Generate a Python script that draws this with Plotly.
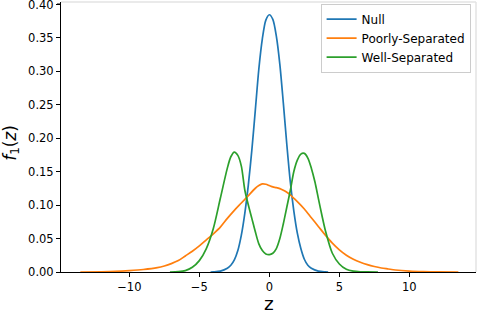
import plotly.graph_objects as go

# ---- data ----
null_z = [-4.2, -4.0, -3.5, -3.0, -2.75, -2.5, -2.25, -2.0, -1.75, -1.5, -1.25, -1.0, -0.75, -0.5, -0.25,
          0.0, 0.25, 0.5, 0.75, 1.0, 1.25, 1.5, 1.75, 2.0, 2.25, 2.5, 2.75, 3.0, 3.5, 4.0, 4.2]
null_f = [0.0, 0.0002, 0.0012, 0.0055, 0.010, 0.018, 0.032, 0.055, 0.088, 0.130, 0.182, 0.242, 0.303, 0.348, 0.376,
          0.384, 0.377, 0.352, 0.310, 0.252, 0.190, 0.134, 0.091, 0.058, 0.035, 0.019, 0.010, 0.0055, 0.0012, 0.0002, 0.0]

poor_z = [-13.5, -12, -11, -10, -9, -8, -7.5, -7, -6.5, -6, -5.5, -5, -4.5, -4, -3.5, -3, -2.5, -2, -1.5, -1,
          -0.75, -0.5, -0.25, 0, 0.25, 0.5, 0.75, 1, 1.25, 1.5, 1.75, 2, 2.5, 3, 3.5, 4, 4.5, 5, 5.5, 6, 6.5,
          7, 7.5, 8, 8.5, 9, 10, 11, 12, 13.5]
poor_f = [0.0, 0.0003, 0.0008, 0.002, 0.0037, 0.0065, 0.009, 0.0125, 0.017, 0.024, 0.031, 0.039, 0.048, 0.057,
          0.067, 0.080, 0.092, 0.103, 0.114, 0.125, 0.129, 0.1315, 0.131, 0.129, 0.127, 0.126, 0.1245, 0.122,
          0.119, 0.115, 0.110, 0.105, 0.094, 0.081, 0.068, 0.055, 0.043, 0.033, 0.025, 0.019, 0.0145, 0.011,
          0.0082, 0.006, 0.0045, 0.003, 0.0014, 0.0006, 0.0002, 0.0]

well_z = [-7.1, -6.5, -6, -5.5, -5, -4.5, -4, -3.5, -3, -2.75, -2.5, -2.25, -2, -1.75, -1.5, -1.25, -1,
          -0.75, -0.5, -0.25, 0, 0.25, 0.5, 0.75, 1, 1.25, 1.5, 1.75, 2, 2.25, 2.5, 2.75, 3, 3.25, 3.5,
          3.75, 4, 4.5, 5, 5.5, 6, 6.5, 7, 7.76]
well_f = [0.0, 0.0005, 0.002, 0.007, 0.017, 0.035, 0.065, 0.110, 0.155, 0.172, 0.179, 0.174, 0.158, 0.122,
          0.100, 0.080, 0.060, 0.042, 0.032, 0.027, 0.026, 0.028, 0.035, 0.050, 0.072, 0.097, 0.122, 0.150,
          0.167, 0.176, 0.177, 0.170, 0.155, 0.135, 0.110, 0.085, 0.062, 0.028, 0.012, 0.004, 0.0012, 0.0003,
          0.0001, 0.0]

x_ticks = [-10, -5, 0, 5, 10]
x_ticklabels = ["\u221210", "\u22125", "0", "5", "10"]
y_ticks = [0.0, 0.05, 0.10, 0.15, 0.20, 0.25, 0.30, 0.35, 0.40]
y_ticklabels = ["0.00", "0.05", "0.10", "0.15", "0.20", "0.25", "0.30", "0.35", "0.40"]

series = [
    ("Null", null_z, null_f, "#1f77b4"),
    ("Poorly-Separated", poor_z, poor_f, "#ff7f0e"),
    ("Well-Separated", well_z, well_f, "#2ca02c"),
]

fig = go.Figure()
for name, xs, ys, col in series:
    fig.add_trace(go.Scatter(x=xs, y=ys, mode="lines", name=name,
                             line=dict(color=col, width=1.7, shape="spline", smoothing=0.8)))

fig.update_layout(
    width=478, height=314,
    margin=dict(l=61, r=2, t=2, b=42),
    plot_bgcolor="white", paper_bgcolor="white",
    font=dict(family="DejaVu Sans", size=11.5, color="black"),
    showlegend=True,
    legend=dict(x=0.987, y=0.994, xanchor="right", yanchor="top",
                bordercolor="#cccccc", borderwidth=1, bgcolor="rgba(255,255,255,0.8)",
                itemwidth=30, font=dict(family="DejaVu Sans", size=12)),
)
fig.update_xaxes(range=[-14.88, 14.76], tickvals=x_ticks, ticktext=x_ticklabels,
                 showline=True, linecolor="black", linewidth=1, ticks="outside", ticklen=4,
                 tickcolor="black", tickwidth=1, showgrid=False, zeroline=False)
# top label drawn separately (plotly drops a label this close to the figure edge)
fig.update_yaxes(range=[0, 0.403], tickvals=y_ticks, ticktext=y_ticklabels[:-1] + [""],
                 showline=True, linecolor="black", linewidth=1, ticks="outside", ticklen=4,
                 tickcolor="black", tickwidth=1, showgrid=False, zeroline=False)
fig.add_annotation(text=y_ticklabels[-1], xref="paper", yref="y", x=0, y=y_ticks[-1],
                   xanchor="right", yanchor="middle", xshift=-5, yshift=-1, showarrow=False,
                   font=dict(family="DejaVu Sans", size=11.5, color="black"))
fig.add_shape(type="line", xref="paper", yref="y", x0=-4, x1=0, y0=y_ticks[-1], y1=y_ticks[-1],
              xsizemode="pixel", xanchor=0, line=dict(color="black", width=1))

# faint top/right frame edges
fig.add_shape(type="line", xref="paper", yref="paper", x0=0, x1=1, y0=1, y1=1,
              line=dict(color="#e3e3e3", width=1.5))
fig.add_shape(type="line", xref="paper", yref="paper", x0=1, x1=1, y0=0, y1=1,
              line=dict(color="#e3e3e3", width=1.5))

fig.add_annotation(text="z", xref="paper", yref="paper", x=0.5, y=-0.118,
                   xanchor="center", yanchor="middle", showarrow=False,
                   font=dict(family="DejaVu Sans", size=18.5, color="black"))
fig.add_annotation(text="<i>f</i><sub>1</sub>(<i>z</i>)", xref="paper", yref="paper",
                   x=-0.120, y=0.479, xanchor="center", yanchor="middle", textangle=-90,
                   showarrow=False, font=dict(family="DejaVu Sans", size=17, color="black"))

fig.write_html("out.html", config={"displayModeBar": False},
               post_script="document.body.style.margin='0';document.body.style.overflow='hidden';")
